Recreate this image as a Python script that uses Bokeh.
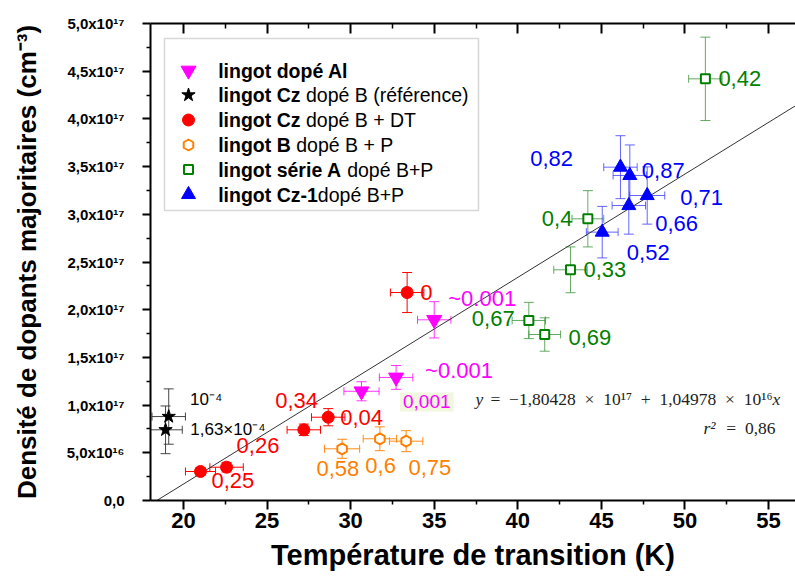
import math
from bokeh.plotting import figure
from bokeh.models import (ColumnDataSource, Whisker, TeeHead, LinearAxis, FixedTicker,
                          BoxAnnotation, Range1d)
from bokeh.embed import file_html
from bokeh.resources import INLINE
from bokeh.core.properties import value

# ---------------- data  (T in K, N in units of 1e17 cm^-3) ----------------
al_T = [30.65, 32.72, 35.00]
al_N = [1.145, 1.290, 1.894]
al_dT = [1.05, 1.00, 1.00]
al_dN = [0.10, 0.125, 0.19]
al_lbl = ["0,001", "~0.001", "~0.001"]

ref_T = [19.12, 18.93]
ref_N = [0.880, 0.741]
ref_dT = [1.0, 1.0]
ref_dN = [0.29, 0.25]
ref_lbl = ["10⁻⁴", "1,63×10⁻⁴"]

dt_T = [21.02, 22.58, 27.20, 28.66, 33.38]
dt_N = [0.304, 0.349, 0.741, 0.873, 2.180]
dt_dT = [0.9, 1.0, 1.0, 1.0, 1.0]
dt_dN = [0.04, 0.05, 0.06, 0.09, 0.21]
dt_lbl = ["0,25", "0,26", "0,34", "0,04", "0"]

bp_T = [29.49, 31.75, 33.32]
bp_N = [0.542, 0.647, 0.622]
bp_dT = [1.05, 1.0, 1.0]
bp_dN = [0.10, 0.125, 0.11]
bp_lbl = ["0,58", "0,6", "0,75"]

sa_T = [51.22, 44.19, 43.15, 40.66, 41.61]
sa_N = [4.420, 2.953, 2.418, 1.887, 1.740]
sa_dT = [1.0, 0.95, 1.0, 1.0, 0.95]
sa_dN = [0.437, 0.295, 0.24, 0.19, 0.175]
sa_lbl = ["0,42", "0,4", "0,33", "0,67", "0,69"]

cz_T = [46.14, 46.70, 47.74, 46.64, 45.05]
cz_N = [3.494, 3.407, 3.197, 3.092, 2.813]
cz_dT = [1.0, 1.0, 1.05, 1.0, 0.95]
cz_dN = [0.33, 0.32, 0.30, 0.30, 0.27]
cz_lbl = ["0,82", "0,87", "0,71", "0,66", "0,52"]

fit_T = [18.41, 56.60]
fit_N = [0.0, 4.137]
eq_main = "\u2002=\u2002−1,80428\u2002×\u200210¹⁷\u2002+\u20021,04978\u2002×\u200210¹⁶"
eq_r2 = "=\u20020,86"

x_ticks = [20, 25, 30, 35, 40, 45, 50, 55]
x_minor = [17.5, 22.5, 27.5, 32.5, 37.5, 42.5, 47.5, 52.5, 57.5]
y_ticks = [0.0, 0.5, 1.0, 1.5, 2.0, 2.5, 3.0, 3.5, 4.0, 4.5, 5.0]
y_minor = [0.25, 0.75, 1.25, 1.75, 2.25, 2.75, 3.25, 3.75, 4.25, 4.75]
y_tick_labels = ["0,0", "5,0x10¹⁶", "1,0x10¹⁷", "1,5x10¹⁷", "2,0x10¹⁷", "2,5x10¹⁷",
                 "3,0x10¹⁷", "3,5x10¹⁷", "4,0x10¹⁷", "4,5x10¹⁷", "5,0x10¹⁷"]

legend_rows = [("lingot dopé Al", ""),
               ("lingot Cz", "dopé B (référence)"),
               ("lingot Cz", "dopé B + DT"),
               ("lingot B", "dopé B + P"),
               ("lingot série A", "dopé B+P"),
               ("lingot Cz-1", "dopé B+P")]

# ---------------- layout ----------------
X_RANGE = (18.03, 56.61)
Y_RANGE = (0.0, 5.0)
W, H = 795, 582
FX0, FX1 = 150, 795   # frame in page pixels
FY0, FY1 = 23, 500


def sx(px):
    return X_RANGE[0] + (px - FX0) * (X_RANGE[1] - X_RANGE[0]) / (FX1 - FX0)


def sy(py):
    return Y_RANGE[0] + (FY1 - py) * (Y_RANGE[1] - Y_RANGE[0]) / (FY1 - FY0)


FONT = "Liberation Sans"
SERIF = "Liberation Serif"

p = figure(width=W, height=H, output_backend="svg", toolbar_location=None,
           x_range=Range1d(*X_RANGE), y_range=Range1d(*Y_RANGE),
           x_axis_type=None, y_axis_type=None,
           min_border_left=FX0, min_border_right=W - FX1,
           min_border_top=FY0, min_border_bottom=H - FY1,
           background_fill_color="white", border_fill_color="white")
p.outline_line_color = None
p.xgrid.visible = False
p.ygrid.visible = False


def style_axis(ax):
    ax.axis_line_width = 2
    ax.axis_line_color = "black"
    ax.major_tick_line_width = 2
    ax.minor_tick_line_width = 1.5
    ax.major_tick_line_color = "black"
    ax.minor_tick_line_color = "black"
    ax.major_label_text_color = "black"
    ax.axis_label_text_color = "black"


xb = LinearAxis(ticker=FixedTicker(ticks=x_ticks, minor_ticks=x_minor),
                axis_label="Température de transition (K)")
style_axis(xb)
xb.major_tick_out = 9
xb.major_tick_in = 0
xb.minor_tick_out = 4
xb.minor_tick_in = 0
xb.major_label_text_font = FONT
xb.major_label_text_font_style = "bold"
xb.major_label_text_font_size = "22px"
xb.major_label_standoff = 3
xb.axis_label_text_font = FONT
xb.axis_label_text_font_style = "bold"
xb.axis_label_text_font_size = "29px"
xb.axis_label_standoff = 8
p.add_layout(xb, "below")

xt = LinearAxis(ticker=FixedTicker(ticks=x_ticks, minor_ticks=x_minor))
style_axis(xt)
xt.major_tick_out = 0
xt.major_tick_in = 10
xt.minor_tick_out = 0
xt.minor_tick_in = 5
xt.major_label_text_color = None
xt.major_label_text_font_size = "10px"
xt.major_label_standoff = 0
p.add_layout(xt, "above")

yl = LinearAxis(ticker=FixedTicker(ticks=y_ticks, minor_ticks=y_minor),
                axis_label="Densité de dopants majoritaires (cm⁻³)")
style_axis(yl)
yl.major_tick_out = 8
yl.major_tick_in = 0
yl.minor_tick_out = 4
yl.minor_tick_in = 0
yl.major_label_overrides = {t: l for t, l in zip(y_ticks, y_tick_labels)}
yl.major_label_text_font = FONT
yl.major_label_text_font_style = "bold"
yl.major_label_text_font_size = "15px"
yl.major_label_standoff = 18
yl.axis_label_text_font = FONT
yl.axis_label_text_font_style = "bold"
yl.axis_label_text_font_size = "26px"
yl.axis_label_standoff = 22
p.add_layout(yl, "left")

# legend frame
p.add_layout(BoxAnnotation(left=sx(164), right=sx(478), top=sy(38), bottom=sy(210),
                           fill_color="white", fill_alpha=1.0, line_color="#7f7f7f",
                           line_width=1.5, level="underlay"))

# regression line
p.line(fit_T, fit_N, line_color="#333333", line_width=1)


def add_series(T, N, dT, dN, lbl, dx, dy, fs, marker, size, color, fill, lw,
               ecolor, ealpha, tcolor, angle=0.0, bga=None):
    src = ColumnDataSource(dict(
        x=T, y=N,
        xl=[t - d for t, d in zip(T, dT)], xu=[t + d for t, d in zip(T, dT)],
        yl=[n - d for n, d in zip(N, dN)], yu=[n + d for n, d in zip(N, dN)],
        lbl=lbl, dx=dx, dy=dy, fs=fs,
        bga=bga if bga is not None else [0.0] * len(T)))
    for dim, base, lo, hi, hs in (("width", "y", "xl", "xu", 8), ("height", "x", "yl", "yu", 10)):
        p.add_layout(Whisker(source=src, base=base, lower=lo, upper=hi, dimension=dim,
                             line_color=ecolor, line_alpha=ealpha, line_width=1,
                             lower_head=TeeHead(size=hs, line_color=ecolor, line_alpha=ealpha, line_width=1),
                             upper_head=TeeHead(size=hs, line_color=ecolor, line_alpha=ealpha, line_width=1)))
    p.scatter("x", "y", source=src, marker=marker, size=size, angle=angle,
              fill_color=fill, line_color=color, line_width=lw)
    p.text("x", "y", text="lbl", source=src, x_offset="dx", y_offset="dy",
           text_font=value(FONT), text_font_size="fs", text_color=tcolor,
           text_baseline="middle", text_align="left",
           background_fill_color="#f1f6df", background_fill_alpha="bga", padding=3)


MAG, RED, ORA, GRN, BLU = "#ff00ff", "#ff0000", "#ff8000", "#008000", "#0000ff"

add_series(ref_T, ref_N, ref_dT, ref_dN, ref_lbl, [18.4, 21.7], [-16.7, 0],
           ["17px"] * 2, "star", 14, "black", "black", 1, "#333333", 0.9, "black")
add_series(dt_T, dt_N, dt_dT, dt_dN, dt_lbl,
           [8, 7, -31.6, 9, 10], [9, -21.7, -29.3, 0, 0],
           ["22px"] * 5, "circle", 12, RED, RED, 1, RED, 1.0, RED)
add_series(bp_T, bp_N, bp_dT, bp_dN, bp_lbl,
           [-28.7, -17.6, -0.7], [20, 26.7, 26],
           ["22px"] * 3, "hex", 11, ORA, "white", 2, ORA, 0.9, ORA, angle=math.pi / 2)
add_series(al_T, al_N, al_dT, al_dN, al_lbl,
           [38.5, 26, 11], [10.7, -6.7, -21],
           ["19px", "22px", "22px"], "inverted_triangle", 15, MAG, MAG, 1, MAG, 0.8, MAG,
           bga=[1.0, 0.0, 0.0])
add_series(sa_T, sa_N, sa_dT, sa_dN, sa_lbl,
           [10, -49, 10, -60, 20.7], [0, 0, 0, -1.7, 3],
           ["22px"] * 5, "square", 9, GRN, "white", 2, "#3c963c", 0.8, GRN)
add_series(cz_T, cz_N, cz_dT, cz_dN, cz_lbl,
           [-93.3, 9, 30, 23.4, 21.6], [-8.4, -5, 1.7, 17.7, 20],
           ["22px"] * 5, "triangle", 14, BLU, BLU, 1, "#4040ff", 0.8, BLU)

# ---------------- legend ----------------
leg_styles = [("inverted_triangle", 15, MAG, MAG, 1, 0.0),
              ("star", 14, "black", "black", 1, 0.0),
              ("circle", 12, RED, RED, 1, 0.0),
              ("hex", 11, ORA, "white", 2, math.pi / 2),
              ("square", 9, GRN, "white", 2, 0.0),
              ("triangle", 14, BLU, BLU, 1, 0.0)]
row_py = [70, 94.5, 119.5, 144.5, 169, 194]
LEG_FS = 19.5
BOLD_W = {'l': 0.278, 'i': 0.278, 'n': 0.611, 'g': 0.611, 'o': 0.611, 't': 0.333, ' ': 0.278,
          'C': 0.722, 'z': 0.5, 'B': 0.722, 's': 0.556, 'é': 0.556, 'r': 0.389, 'A': 0.722,
          '-': 0.333, '1': 0.556, 'd': 0.611, 'p': 0.611, 'e': 0.556}
for (mk, sz, lc, fc, lw, ang), py in zip(leg_styles, row_py):
    p.scatter([sx(188)], [sy(py)], marker=mk, size=sz, line_color=lc, fill_color=fc,
              line_width=lw, angle=ang)
bx, by, bt, nx, ny, nt = [], [], [], [], [], []
for (bold, normal), py in zip(legend_rows, row_py):
    bx.append(sx(217.7)); by.append(sy(py)); bt.append(bold)
    if normal:
        w = sum(BOLD_W.get(c, 0.6) for c in bold) * LEG_FS
        if not bold.endswith("1"):
            w += 0.278 * LEG_FS
        nx.append(sx(217.7 + w)); ny.append(sy(py)); nt.append(normal)
p.text(bx, by, text=bt, text_font=value(FONT), text_font_size=f"{LEG_FS}px",
       text_font_style="bold", text_color="black", text_baseline="middle", text_align="left")
p.text(nx, ny, text=nt, text_font=value(FONT), text_font_size=f"{LEG_FS}px",
       text_color="black", text_baseline="middle", text_align="left")

# ---------------- equation ----------------
EQ_FS = "17.5px"
p.text([sx(475)], [sy(398)], text=["y"], text_font=value(SERIF), text_font_size=EQ_FS,
       text_font_style="italic", text_color="#222222", text_baseline="middle", text_align="left")
p.text([sx(772)], [sy(398)], text=[eq_main], text_font=value(SERIF), text_font_size=EQ_FS,
       text_color="#222222", text_baseline="middle", text_align="right")
p.text([sx(772)], [sy(398)], text=["x"], text_font=value(SERIF), text_font_size=EQ_FS,
       text_font_style="italic", text_color="#222222", text_baseline="middle", text_align="left")
p.text([sx(703)], [sy(427)], text=["r²"], text_font=value(SERIF), text_font_size=EQ_FS,
       text_font_style="italic", text_color="#222222", text_baseline="middle", text_align="left")
p.text([sx(775)], [sy(427)], text=[eq_r2], text_font=value(SERIF), text_font_size=EQ_FS,
       text_color="#222222", text_baseline="middle", text_align="right")

open("out.html", "w").write(file_html(p, INLINE))
